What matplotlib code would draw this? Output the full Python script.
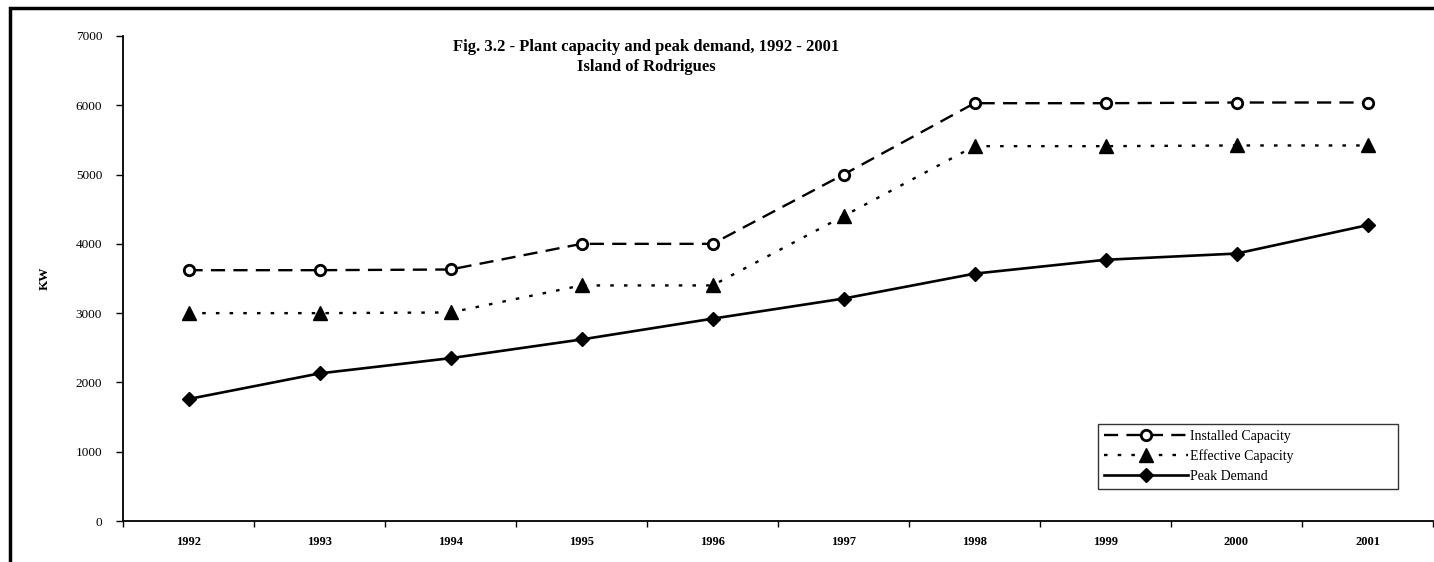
import matplotlib.pyplot as plt
from matplotlib.patches import Rectangle
import numpy as np

# Data (KW)
years = ['1992', '1993', '1994', '1995', '1996', '1997', '1998', '1999', '2000', '2001']
installed = [3620, 3620, 3630, 4000, 4000, 5000, 6030, 6030, 6040, 6040]
effective = [3000, 3000, 3010, 3400, 3400, 4400, 5410, 5410, 5420, 5420]
peak = [1760, 2130, 2350, 2620, 2920, 3210, 3570, 3770, 3860, 4270]

plt.rcParams['font.family'] = ['Liberation Serif', 'DejaVu Serif']

W, H = 1434, 562
fig = plt.figure(figsize=(W / 100, H / 100), dpi=100)
ax = fig.add_axes([123 / W, 1 - 521 / H, 1310 / W, 485 / H])

x = np.arange(len(years))

ax.plot(x, installed, color='black', lw=1.7, dashes=(6, 3.5),
        marker='o', ms=7.5, mfc='white', mec='black', mew=2,
        label='Installed Capacity')
ax.plot(x, effective, color='black', lw=1.7, dashes=(1.5, 4.3),
        marker='^', ms=9.5, mfc='black', mec='black',
        label='Effective Capacity')
ax.plot(x, peak, color='black', lw=1.9, linestyle='-',
        marker='D', ms=7.5, mfc='black', mec='black',
        label='Peak Demand')

ax.set_xlim(-0.5, len(years) - 0.5)
ax.set_ylim(0, 7000)

# category axis: ticks between categories, labels at centres
ax.set_xticks(np.arange(-0.5, len(years), 1.0))
ax.set_xticklabels([])
ax.set_xticks(x, minor=True)
ax.set_xticklabels(years, minor=True, fontsize=9, fontweight='bold')
ax.tick_params(axis='x', which='major', direction='out', length=4, width=1)
ax.tick_params(axis='x', which='minor', length=0, pad=11)

ax.set_yticks(np.arange(0, 7001, 1000))
ax.tick_params(axis='y', direction='out', length=5, width=1, labelsize=9.5, pad=10)

for side in ['top', 'right']:
    ax.spines[side].set_visible(False)
ax.spines['left'].set_linewidth(1.3)
ax.spines['bottom'].set_linewidth(1.3)

fig.text(45 / W, 1 - 278 / H, 'KW', rotation=90, ha='center', va='center',
         fontsize=9.5, fontweight='bold')

fig.text(646 / W, 1 - 47 / H, 'Fig. 3.2 - Plant capacity and peak demand, 1992 - 2001',
         ha='center', va='center', fontsize=12, fontweight='bold')
fig.text(646 / W, 1 - 67 / H, 'Island of Rodrigues',
         ha='center', va='center', fontsize=12, fontweight='bold')

leg = ax.legend(loc='upper left', bbox_to_anchor=(1098 / W, 1 - 496 / H, 300 / W, 72 / H),
                bbox_transform=fig.transFigure, mode='expand', fontsize=10,
                frameon=True, fancybox=False, handlelength=6, handletextpad=0.2,
                labelspacing=0.45, borderpad=0.45, borderaxespad=0)
leg.get_frame().set_edgecolor('black')
leg.get_frame().set_linewidth(1.0)

# outer frame of the scanned figure
fig.patches.append(Rectangle((10 / W, -0.1), 1.2, 1.1 - 8 / H, transform=fig.transFigure,
                             fill=False, lw=2.5, edgecolor='black', clip_on=False))

fig.savefig('out.png', dpi=100)
